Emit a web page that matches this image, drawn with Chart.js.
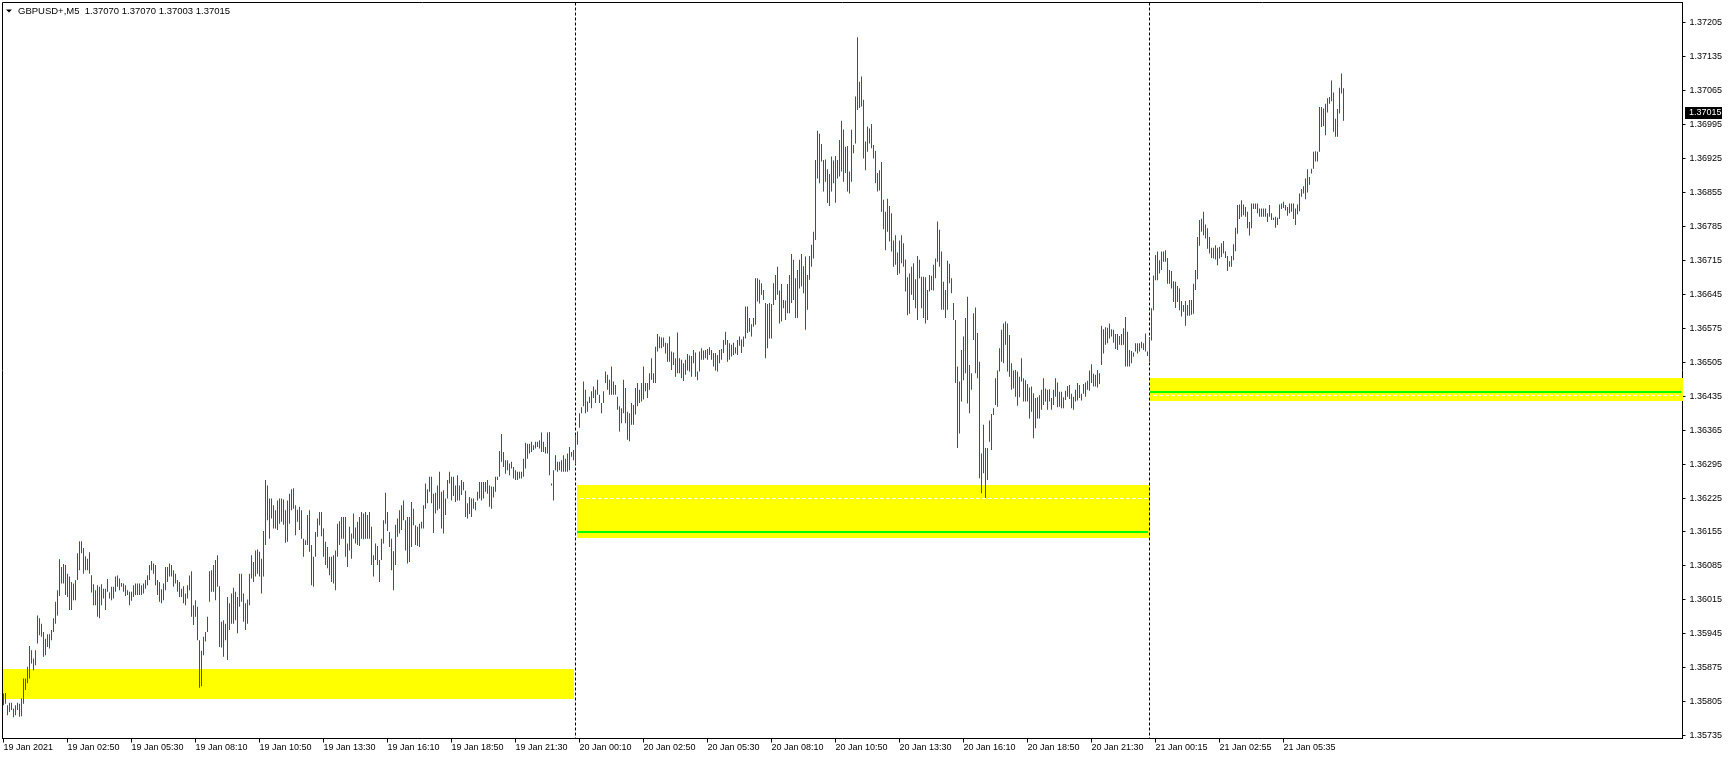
<!DOCTYPE html>
<html>
<head>
<meta charset="utf-8">
<title>GBPUSD+,M5</title>
<script src="https://cdn.jsdelivr.net/npm/chart.js@4.4.1/dist/chart.umd.min.js"></script>
<style>
  html, body { margin: 0; padding: 0; background: #fff; }
  #wrap { width: 1729px; height: 759px; position: relative; }
</style>
</head>
<body>
<div id="wrap"><canvas id="priceChart"></canvas></div>
<script>
// GBPUSD+ M5, 19 Jan 2021 00:10 .. 21 Jan 2021 08:05 (one entry per 5-minute bar)
const symbolName = 'GBPUSD+,M5';
const lastOhlc = [1.37070, 1.37070, 1.37003, 1.37015];
const currentPrice = 1.37015;

const barHigh = [
  // 19 Jan
  1.35822,1.35823,1.35798,1.35803,1.35803,1.35791,1.35798,1.35803,1.35801,1.35812,
  1.35853,1.35853,1.35877,1.35920,1.35911,1.35894,1.35911,1.35983,1.35977,1.35966,
  1.35949,1.35935,1.35944,1.35944,1.35953,1.35977,1.36011,1.36035,1.36099,1.36083,
  1.36089,1.36087,1.36069,1.36063,1.36052,1.36049,1.36056,1.36111,1.36136,1.36136,
  1.36122,1.36105,1.36100,1.36113,1.36066,1.36047,1.36035,1.36045,1.36042,1.36047,
  1.36038,1.36038,1.36058,1.36030,1.36042,1.36042,1.36063,1.36065,1.36059,1.36050,
  1.36049,1.36045,1.36035,1.36032,1.36032,1.36045,1.36049,1.36049,1.36049,1.36045,
  1.36049,1.36056,1.36066,1.36087,1.36095,1.36090,1.36087,1.36056,1.36052,1.36037,
  1.36049,1.36083,1.36083,1.36090,1.36087,1.36076,1.36069,1.36056,1.36052,1.36038,
  1.36043,1.36028,1.36045,1.36065,1.36074,1.36004,1.36014,1.36001,1.35932,1.35910,
  1.35939,1.35949,1.35980,1.36074,1.36076,1.36087,1.36097,1.36107,1.36043,1.35970,
  1.35973,1.35966,1.36021,1.36008,1.36028,1.36040,1.36032,1.36021,1.36069,1.36069,
  1.36028,1.36008,1.36016,1.36069,1.36107,1.36093,1.36117,1.36119,1.36114,1.36100,
  1.36157,1.36262,1.36251,1.36224,1.36224,1.36210,1.36200,1.36220,1.36224,1.36224,
  1.36222,1.36200,1.36220,1.36234,1.36243,1.36245,1.36210,1.36201,1.36207,1.36200,
  1.36141,1.36138,1.36190,1.36200,1.36128,1.36104,1.36155,1.36183,1.36196,1.36196,
  1.36162,1.36135,1.36124,1.36104,1.36104,1.36107,1.36117,1.36172,1.36177,1.36186,
  1.36186,1.36186,1.36131,1.36166,1.36152,1.36193,1.36164,1.36176,1.36186,1.36196,
  1.36193,1.36196,1.36190,1.36196,1.36166,1.36107,1.36131,1.36126,1.36097,1.36141,
  1.36179,1.36236,1.36196,1.36155,1.36141,1.36115,1.36170,1.36183,1.36200,1.36210,
  1.36220,1.36179,1.36186,1.36186,1.36217,1.36203,1.36169,1.36166,1.36172,1.36176,
  1.36210,1.36255,1.36243,1.36269,1.36269,1.36234,1.36236,1.36251,1.36279,1.36238,
  1.36241,1.36224,1.36262,1.36279,1.36269,1.36269,1.36251,1.36272,1.36251,1.36262,
  1.36258,1.36240,1.36214,1.36227,1.36224,1.36224,1.36217,1.36238,1.36258,1.36258,
  1.36258,1.36258,1.36262,1.36251,1.36249,1.36248,1.36269,1.36269,1.36322,1.36357,
  1.36320,1.36303,1.36303,1.36296,1.36300,1.36289,1.36282,1.36279,1.36279,1.36279,
  1.36306,1.36339,1.36337,1.36337,1.36341,1.36334,1.36341,1.36341,1.36344,1.36360,
  1.36341,1.36330,1.36360,1.36361,1.36255,1.36282,1.36313,1.36300,1.36300,1.36303,
  1.36313,1.36306,1.36317,1.36330,1.36320,1.36324,
  // 20 Jan
  1.36355,1.36362,1.36400,1.36412,1.36465,1.36448,1.36424,1.36434,1.36445,1.36455,
  1.36448,1.36469,1.36438,1.36421,1.36445,1.36486,1.36479,1.36469,1.36496,1.36465,
  1.36458,1.36434,1.36414,1.36410,1.36469,1.36452,1.36403,1.36400,1.36421,1.36417,
  1.36452,1.36462,1.36448,1.36462,1.36496,1.36462,1.36462,1.36482,1.36513,1.36482,
  1.36537,1.36563,1.36558,1.36556,1.36556,1.36545,1.36544,1.36558,1.36527,1.36525,
  1.36513,1.36566,1.36513,1.36510,1.36503,1.36510,1.36522,1.36519,1.36518,1.36530,
  1.36525,1.36486,1.36527,1.36534,1.36529,1.36530,1.36532,1.36536,1.36530,1.36524,
  1.36524,1.36520,1.36530,1.36532,1.36551,1.36568,1.36551,1.36544,1.36541,1.36545,
  1.36536,1.36551,1.36558,1.36552,1.36558,1.36620,1.36620,1.36596,1.36583,1.36596,
  1.36678,1.36678,1.36675,1.36668,1.36654,1.36627,1.36625,1.36627,1.36625,1.36668,
  1.36685,1.36702,1.36653,1.36666,1.36633,1.36632,1.36666,1.36685,1.36728,1.36716,
  1.36678,1.36695,1.36716,1.36728,1.36703,1.36723,1.36685,1.36724,1.36747,1.36774,
  1.36922,1.36982,1.36976,1.36955,1.36922,1.36923,1.36903,1.36893,1.36929,1.36921,
  1.36930,1.36922,1.36963,1.37003,1.36985,1.36949,1.36951,1.36898,1.36984,1.36953,
  1.37053,1.37175,1.37083,1.37094,1.37046,1.36960,1.36991,1.36987,1.36996,1.36953,
  1.36941,1.36895,1.36901,1.36918,1.36840,1.36815,1.36842,1.36827,1.36812,1.36756,
  1.36767,1.36731,1.36756,1.36767,1.36750,1.36717,1.36680,1.36688,1.36702,1.36709,
  1.36676,1.36724,1.36716,1.36681,1.36681,1.36680,1.36654,1.36685,1.36683,1.36706,
  1.36719,1.36795,1.36778,1.36733,1.36671,1.36654,1.36714,1.36708,1.36678,1.36627,
  1.36592,1.36496,1.36465,1.36530,1.36558,1.36596,1.36640,1.36499,1.36482,1.36606,
  1.36618,1.36565,1.36506,1.36317,1.36376,1.36328,1.36328,1.36385,1.36398,1.36410,
  1.36472,1.36488,1.36534,1.36572,1.36585,1.36589,1.36585,1.36561,1.36503,1.36488,
  1.36489,1.36486,1.36475,1.36513,1.36472,1.36468,1.36460,1.36453,1.36455,1.36441,
  1.36431,1.36433,1.36437,1.36448,1.36472,1.36451,1.36448,1.36449,1.36431,1.36448,
  1.36472,1.36463,1.36444,1.36444,1.36433,1.36446,1.36456,1.36458,1.36440,1.36434,
  1.36448,1.36462,1.36458,1.36440,1.36460,1.36463,1.36467,1.36488,1.36501,1.36481,
  1.36479,1.36489,1.36482,1.36580,1.36573,1.36577,1.36576,1.36585,1.36573,1.36572,
  1.36563,1.36563,1.36559,1.36563,1.36575,1.36598,1.36568,1.36530,1.36528,1.36525,
  1.36544,1.36544,1.36544,1.36547,1.36544,1.36564,1.36527,
  // 21 Jan
  1.36557,1.36616,1.36684,1.36726,1.36733,1.36715,1.36733,1.36733,1.36736,1.36720,
  1.36695,1.36693,1.36672,1.36671,1.36662,1.36657,1.36631,1.36623,1.36631,1.36623,
  1.36633,1.36633,1.36667,1.36695,1.36763,1.36798,1.36801,1.36815,1.36789,1.36781,
  1.36763,1.36741,1.36741,1.36746,1.36741,1.36743,1.36750,1.36755,1.36734,1.36724,
  1.36713,1.36724,1.36748,1.36782,1.36829,1.36830,1.36839,1.36830,1.36825,1.36815,
  1.36794,1.36832,1.36832,1.36832,1.36832,1.36822,1.36822,1.36822,1.36822,1.36812,
  1.36829,1.36812,1.36803,1.36805,1.36803,1.36830,1.36832,1.36836,1.36829,1.36825,
  1.36832,1.36832,1.36832,1.36822,1.36830,1.36853,1.36862,1.36868,1.36884,1.36903,
  1.36887,1.36904,1.36939,1.36940,1.36939,1.37031,1.37031,1.37028,1.37038,1.37049,
  1.37052,1.37086,1.37061,1.37007,1.37027,1.37071,1.37100,1.37070
];

const barLow = [
  // 19 Jan
  1.35798,1.35801,1.35777,1.35784,1.35788,1.35773,1.35777,1.35788,1.35774,1.35775,
  1.35801,1.35829,1.35843,1.35853,1.35884,1.35870,1.35880,1.35925,1.35942,1.35939,
  1.35898,1.35901,1.35918,1.35915,1.35932,1.35949,1.35966,1.35983,1.36023,1.36049,
  1.36049,1.36025,1.36021,1.35994,1.35994,1.36014,1.36014,1.36056,1.36076,1.36111,
  1.36069,1.36076,1.36076,1.36069,1.36030,1.36004,1.36004,1.35980,1.35977,1.36004,
  1.36018,1.35994,1.36032,1.36018,1.36014,1.36018,1.36032,1.36042,1.36035,1.36042,
  1.36032,1.36023,1.36025,1.36004,1.36013,1.36021,1.36025,1.36025,1.36025,1.36025,
  1.36028,1.36038,1.36045,1.36056,1.36076,1.36069,1.36045,1.36025,1.36011,1.36008,
  1.36014,1.36035,1.36052,1.36063,1.36063,1.36042,1.36049,1.36032,1.36021,1.36021,
  1.36008,1.36004,1.36018,1.36035,1.35980,1.35963,1.35980,1.35932,1.35834,1.35837,
  1.35901,1.35929,1.35949,1.36011,1.36032,1.36032,1.36014,1.36042,1.35918,1.35917,
  1.35898,1.35932,1.35891,1.35953,1.35966,1.35966,1.35973,1.35946,1.36001,1.36011,
  1.35970,1.35953,1.35966,1.36004,1.36059,1.36052,1.36063,1.36069,1.36063,1.36028,
  1.36063,1.36128,1.36179,1.36141,1.36183,1.36162,1.36162,1.36159,1.36172,1.36176,
  1.36170,1.36133,1.36135,1.36172,1.36200,1.36203,1.36148,1.36176,1.36159,1.36141,
  1.36104,1.36128,1.36128,1.36114,1.36045,1.36042,1.36104,1.36145,1.36169,1.36146,
  1.36104,1.36087,1.36080,1.36066,1.36052,1.36049,1.36035,1.36104,1.36128,1.36141,
  1.36141,1.36104,1.36083,1.36117,1.36100,1.36141,1.36131,1.36128,1.36126,1.36141,
  1.36140,1.36141,1.36141,1.36141,1.36087,1.36063,1.36097,1.36087,1.36052,1.36097,
  1.36131,1.36172,1.36157,1.36124,1.36076,1.36035,1.36087,1.36145,1.36152,1.36159,
  1.36179,1.36117,1.36090,1.36093,1.36124,1.36169,1.36128,1.36126,1.36124,1.36162,
  1.36162,1.36203,1.36214,1.36238,1.36214,1.36153,1.36193,1.36200,1.36203,1.36162,
  1.36152,1.36190,1.36224,1.36255,1.36220,1.36229,1.36217,1.36220,1.36220,1.36231,
  1.36241,1.36186,1.36183,1.36192,1.36186,1.36203,1.36200,1.36220,1.36224,1.36220,
  1.36224,1.36238,1.36234,1.36207,1.36203,1.36226,1.36238,1.36262,1.36269,1.36300,
  1.36289,1.36275,1.36282,1.36272,1.36286,1.36265,1.36262,1.36262,1.36265,1.36265,
  1.36269,1.36286,1.36306,1.36317,1.36320,1.36324,1.36327,1.36330,1.36327,1.36320,
  1.36320,1.36317,1.36317,1.36272,1.36251,1.36220,1.36282,1.36279,1.36282,1.36279,
  1.36279,1.36279,1.36279,1.36282,1.36310,1.36303,
  // 20 Jan
  1.36294,1.36335,1.36370,1.36400,1.36414,1.36400,1.36403,1.36421,1.36410,1.36431,
  1.36421,1.36438,1.36421,1.36400,1.36421,1.36462,1.36448,1.36438,1.36438,1.36438,
  1.36438,1.36407,1.36362,1.36379,1.36400,1.36379,1.36345,1.36342,1.36376,1.36376,
  1.36397,1.36414,1.36421,1.36424,1.36428,1.36445,1.36431,1.36448,1.36469,1.36462,
  1.36462,1.36527,1.36534,1.36534,1.36537,1.36523,1.36506,1.36506,1.36489,1.36499,
  1.36475,1.36482,1.36482,1.36472,1.36466,1.36479,1.36488,1.36486,1.36475,1.36503,
  1.36475,1.36468,1.36486,1.36510,1.36510,1.36513,1.36510,1.36520,1.36510,1.36496,
  1.36488,1.36486,1.36503,1.36510,1.36524,1.36541,1.36506,1.36510,1.36517,1.36520,
  1.36523,1.36520,1.36539,1.36524,1.36537,1.36554,1.36565,1.36568,1.36558,1.36578,
  1.36582,1.36630,1.36626,1.36644,1.36633,1.36513,1.36534,1.36554,1.36554,1.36623,
  1.36633,1.36644,1.36585,1.36589,1.36616,1.36592,1.36606,1.36606,1.36627,1.36633,
  1.36596,1.36596,1.36657,1.36661,1.36647,1.36572,1.36613,1.36675,1.36702,1.36719,
  1.36757,1.36884,1.36874,1.36919,1.36857,1.36877,1.36833,1.36827,1.36857,1.36874,
  1.36834,1.36884,1.36888,1.36898,1.36877,1.36895,1.36857,1.36853,1.36877,1.36936,
  1.36956,1.37025,1.37029,1.37032,1.36925,1.36901,1.36939,1.36956,1.36946,1.36925,
  1.36874,1.36857,1.36859,1.36815,1.36779,1.36736,1.36774,1.36754,1.36733,1.36702,
  1.36706,1.36685,1.36688,1.36709,1.36702,1.36651,1.36602,1.36605,1.36644,1.36633,
  1.36616,1.36592,1.36678,1.36616,1.36596,1.36585,1.36592,1.36651,1.36654,1.36653,
  1.36678,1.36712,1.36702,1.36613,1.36613,1.36596,1.36613,1.36668,1.36647,1.36592,
  1.36462,1.36328,1.36358,1.36424,1.36468,1.36482,1.36420,1.36400,1.36448,1.36551,
  1.36482,1.36472,1.36266,1.36235,1.36276,1.36225,1.36262,1.36341,1.36324,1.36396,
  1.36417,1.36413,1.36486,1.36506,1.36503,1.36541,1.36486,1.36475,1.36448,1.36451,
  1.36434,1.36415,1.36433,1.36465,1.36424,1.36424,1.36424,1.36389,1.36403,1.36348,
  1.36369,1.36389,1.36389,1.36407,1.36417,1.36424,1.36407,1.36424,1.36407,1.36417,
  1.36434,1.36412,1.36413,1.36410,1.36410,1.36427,1.36434,1.36429,1.36410,1.36407,
  1.36424,1.36426,1.36431,1.36426,1.36440,1.36434,1.36448,1.36446,1.36462,1.36455,
  1.36455,1.36453,1.36460,1.36499,1.36523,1.36541,1.36544,1.36554,1.36558,1.36545,
  1.36532,1.36530,1.36541,1.36540,1.36541,1.36496,1.36496,1.36496,1.36503,1.36516,
  1.36527,1.36523,1.36527,1.36534,1.36530,1.36527,1.36518,
  // 21 Jan
  1.36506,1.36550,1.36612,1.36674,1.36674,1.36688,1.36695,1.36712,1.36712,1.36667,
  1.36667,1.36657,1.36629,1.36617,1.36629,1.36612,1.36599,1.36609,1.36580,1.36601,
  1.36601,1.36603,1.36605,1.36654,1.36676,1.36745,1.36774,1.36767,1.36760,1.36739,
  1.36729,1.36720,1.36719,1.36717,1.36705,1.36719,1.36722,1.36729,1.36720,1.36693,
  1.36702,1.36702,1.36715,1.36734,1.36770,1.36800,1.36805,1.36808,1.36805,1.36781,
  1.36766,1.36781,1.36821,1.36821,1.36812,1.36805,1.36805,1.36805,1.36805,1.36794,
  1.36805,1.36798,1.36798,1.36782,1.36788,1.36800,1.36821,1.36823,1.36818,1.36807,
  1.36812,1.36815,1.36800,1.36788,1.36810,1.36816,1.36846,1.36853,1.36841,1.36855,
  1.36871,1.36894,1.36904,1.36919,1.36919,1.36939,1.36990,1.36992,1.36973,1.37020,
  1.37038,1.37043,1.36980,1.36970,1.36970,1.37018,1.37059,1.37003
];

// bar index where each new day starts (period separators)
const daySeparators = [286, 573];

// time axis labels, one every 32 bars
const xTickBars = [0, 32, 64, 96, 128, 160, 192, 224, 256, 288, 320, 352, 384, 416, 448, 480, 512, 544, 576, 608, 640];
const xTickLabels = [
  '19 Jan 2021', '19 Jan 02:50', '19 Jan 05:30', '19 Jan 08:10', '19 Jan 10:50', '19 Jan 13:30',
  '19 Jan 16:10', '19 Jan 18:50', '19 Jan 21:30', '20 Jan 00:10', '20 Jan 02:50', '20 Jan 05:30',
  '20 Jan 08:10', '20 Jan 10:50', '20 Jan 13:30', '20 Jan 16:10', '20 Jan 18:50', '20 Jan 21:30',
  '21 Jan 00:15', '21 Jan 02:55', '21 Jan 05:35'
];

// price axis labels
const yTickValues = [
  1.35735, 1.35805, 1.35875, 1.35945, 1.36015, 1.36085, 1.36155, 1.36225, 1.36295, 1.36365, 1.36435,
  1.36505, 1.36575, 1.36645, 1.36715, 1.36785, 1.36855, 1.36925, 1.36995, 1.37065, 1.37135, 1.37205
];

// supply/demand rectangles (bar index span and price span)
const zoneFrom = [-0.5, 286.75, 573.25];
const zoneTo = [285, 573.25, 839.5];
const zoneTop = [1.35873, 1.36252, 1.36472];
const zoneBottom = [1.35811, 1.36142, 1.36425];
const zoneLevel = [null, 1.36154, 1.36444];     // green line
const zoneMidLevel = [null, 1.36226, 1.36437];  // white dotted line

const barData = barHigh.map((h, i) => ({ x: i, y: [barLow[i], h] }));

const FONT = '"Liberation Sans", Arial, sans-serif';

const chartDecor = {
  id: 'chartDecor',
  beforeDatasetsDraw(chart) {
    const { ctx, chartArea: area, scales: { x, y } } = chart;
    ctx.save();
    // yellow rectangles
    ctx.fillStyle = '#ffff00';
    zoneFrom.forEach((from, k) => {
      const x0 = x.getPixelForValue(from), x1 = x.getPixelForValue(zoneTo[k]);
      const y0 = Math.round(y.getPixelForValue(zoneTop[k])), y1 = Math.round(y.getPixelForValue(zoneBottom[k]));
      ctx.fillRect(Math.round(x0), y0, Math.round(x1) - Math.round(x0), y1 - y0);
    });
    // levels inside rectangles
    zoneFrom.forEach((from, k) => {
      const x0 = Math.round(x.getPixelForValue(from)), x1 = Math.round(x.getPixelForValue(zoneTo[k]));
      if (zoneMidLevel[k] !== null) {
        const ym = Math.round(y.getPixelForValue(zoneMidLevel[k])) + 0.5;
        ctx.strokeStyle = '#ffffff';
        ctx.lineWidth = 1;
        ctx.setLineDash([4, 2]);
        ctx.beginPath();
        ctx.moveTo(x0 + 3, ym);
        ctx.lineTo(x1 - 2, ym);
        ctx.stroke();
        ctx.setLineDash([]);
      }
      if (zoneLevel[k] !== null) {
        const yl = Math.round(y.getPixelForValue(zoneLevel[k]));
        ctx.fillStyle = '#00ff00';
        ctx.fillRect(x0, yl - 1, x1 - x0 - 2, 2);
      }
    });
    // day separators
    ctx.strokeStyle = '#000000';
    ctx.lineWidth = 1;
    ctx.setLineDash([3, 2]);
    daySeparators.forEach(b => {
      const px = Math.floor(x.getPixelForValue(b)) + 0.5;
      ctx.beginPath();
      ctx.moveTo(px, area.top);
      ctx.lineTo(px, area.bottom);
      ctx.stroke();
    });
    ctx.restore();
  },
  afterDraw(chart) {
    const { ctx, chartArea: area, scales: { y } } = chart;
    ctx.save();
    // left and top frame
    ctx.strokeStyle = '#000000';
    ctx.lineWidth = 1;
    ctx.beginPath();
    ctx.moveTo(area.left, area.bottom);
    ctx.lineTo(area.left, area.top);
    ctx.lineTo(area.right, area.top);
    ctx.stroke();
    // header
    ctx.fillStyle = '#000000';
    ctx.beginPath();
    ctx.moveTo(6, 9.5);
    ctx.lineTo(12, 9.5);
    ctx.lineTo(9, 12.5);
    ctx.closePath();
    ctx.fill();
    ctx.font = '9.5px ' + FONT;
    ctx.textBaseline = 'middle';
    ctx.textAlign = 'left';
    ctx.fillText(symbolName + '  ' + lastOhlc.map(v => v.toFixed(5)).join(' '), 18, 11);
    // current price tag
    const yp = Math.round(y.getPixelForValue(currentPrice));
    ctx.fillStyle = '#000000';
    ctx.fillRect(area.right + 2.5, yp - 8, 37, 12);
    ctx.fillStyle = '#ffffff';
    ctx.font = '9px ' + FONT;
    ctx.fillText(currentPrice.toFixed(5), area.right + 6.5, yp - 2);
    ctx.restore();
  }
};

new Chart(document.getElementById('priceChart'), {
  type: 'bar',
  data: {
    datasets: [{
      label: symbolName,
      data: barData,
      backgroundColor: '#ff0000',
      borderWidth: 0,
      barThickness: 1,
      inflateAmount: 0
    }]
  },
  options: {
    responsive: true,
    maintainAspectRatio: false,
    animation: false,
    events: [],
    layout: { padding: { left: 2.5, top: 2.5, right: 0, bottom: 0 }, autoPadding: false },
    plugins: { legend: { display: false }, tooltip: { enabled: false } },
    scales: {
      x: {
        type: 'linear',
        min: -0.5,
        max: 839.5,
        offset: false,
        grid: { display: true, drawOnChartArea: false, offset: false, tickLength: 4, color: '#000000', lineWidth: 1 },
        border: { display: true, color: '#000000', width: 1 },
        ticks: {
          autoSkip: false,
          maxRotation: 0,
          minRotation: 0,
          align: 'start',
          padding: 0,
          color: '#000000',
          font: { family: FONT, size: 9 },
          callback: (value) => {
            const k = xTickBars.indexOf(value);
            return k >= 0 ? xTickLabels[k] : '';
          }
        },
        afterBuildTicks: (scale) => { scale.ticks = xTickBars.map(v => ({ value: v })); },
        afterFit: (scale) => {
          scale.height = 20.5;
          scale.paddingLeft = 0;
          scale.paddingRight = 0;
        }
      },
      y: {
        position: 'right',
        min: 1.357292,
        max: 1.372466,
        grid: { display: true, drawOnChartArea: false, tickLength: 3, color: '#000000', lineWidth: 1 },
        border: { display: true, color: '#000000', width: 1 },
        ticks: {
          padding: 4,
          color: '#000000',
          font: { family: FONT, size: 9 },
          callback: (value) => Number(value).toFixed(5)
        },
        afterBuildTicks: (scale) => { scale.ticks = yTickValues.map(v => ({ value: v })); },
        afterFit: (scale) => {
          scale.width = 46.5;
          scale.paddingTop = 0;
          scale.paddingBottom = 0;
        }
      }
    }
  },
  plugins: [chartDecor]
});
</script>
</body>
</html>
